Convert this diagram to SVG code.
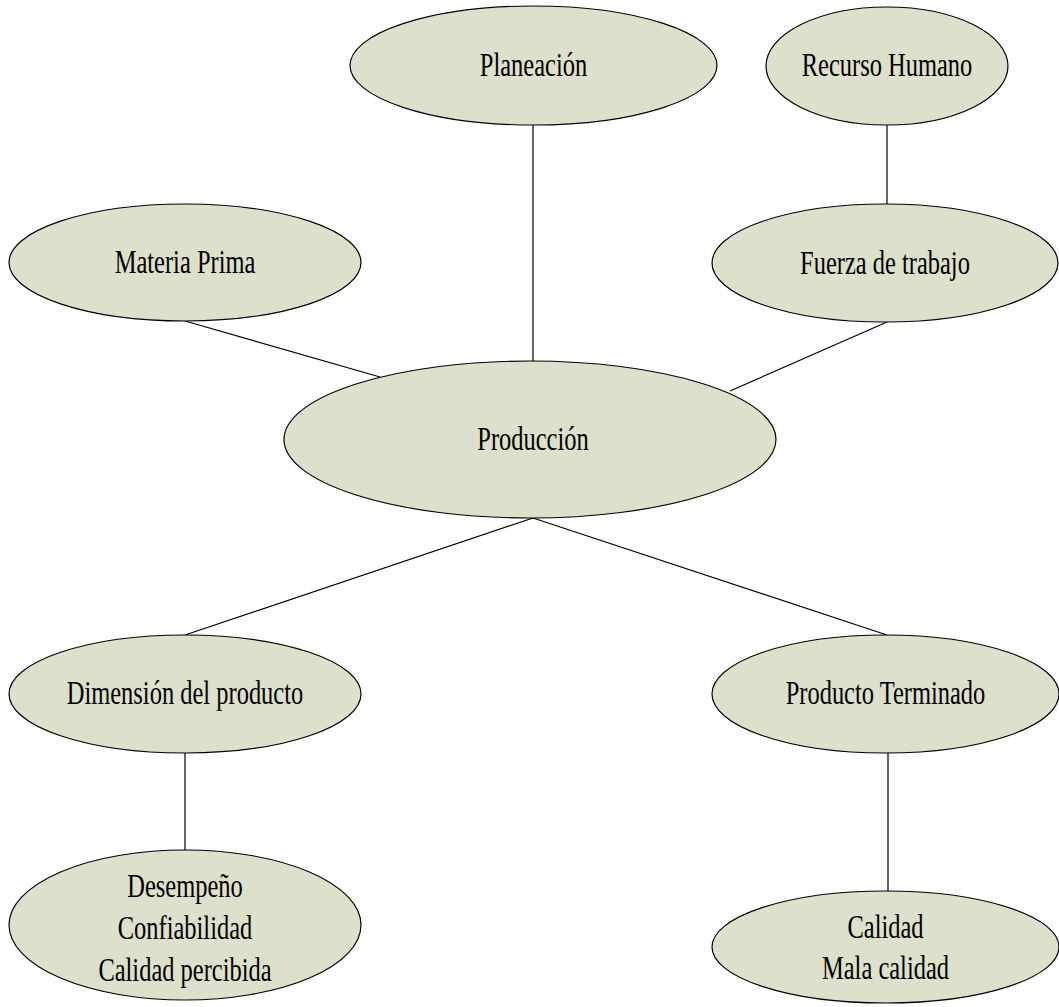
<svg xmlns="http://www.w3.org/2000/svg" width="1059" height="1007" viewBox="0 0 1059 1007">
<style>
.node ellipse{fill:#dde0cb;stroke:#000;stroke-width:1.2}
.node text{font-family:"Liberation Serif","Times New Roman",serif;font-size:34px;fill:#000;text-anchor:middle}
.conn line{stroke:#000;stroke-width:1.2}
</style>
<rect width="1059" height="1007" fill="#fff"/>
<g id="connectors" class="conn">
<line x1="533" y1="125" x2="533" y2="361"/>
<line x1="887" y1="125" x2="887" y2="204"/>
<line x1="185" y1="321" x2="380" y2="377"/>
<line x1="887" y1="322" x2="730" y2="391"/>
<line x1="533" y1="518" x2="185" y2="635"/>
<line x1="533" y1="518" x2="887" y2="635"/>
<line x1="185" y1="753" x2="185" y2="850"/>
<line x1="888" y1="753" x2="888" y2="891"/>
</g>
<g id="planeacion" class="node">
<ellipse cx="533.5" cy="65.5" rx="183.5" ry="59.5"/>
<text transform="translate(533.5,76) scale(0.72,1)">Planeación</text>
</g>
<g id="recurso-humano" class="node">
<ellipse cx="887" cy="66" rx="121" ry="59"/>
<text transform="translate(887,76) scale(0.72,1)">Recurso Humano</text>
</g>
<g id="materia-prima" class="node">
<ellipse cx="185" cy="262.5" rx="176" ry="58.5"/>
<text transform="translate(185,273) scale(0.72,1)">Materia Prima</text>
</g>
<g id="fuerza-de-trabajo" class="node">
<ellipse cx="885" cy="263" rx="173" ry="59"/>
<text transform="translate(885,274) scale(0.72,1)">Fuerza de trabajo</text>
</g>
<g id="produccion" class="node">
<ellipse cx="530" cy="439.5" rx="246" ry="78.5"/>
<text transform="translate(533,450) scale(0.72,1)">Producción</text>
</g>
<g id="dimension-del-producto" class="node">
<ellipse cx="185" cy="694" rx="176" ry="59"/>
<text transform="translate(185,704) scale(0.72,1)">Dimensión del producto</text>
</g>
<g id="producto-terminado" class="node">
<ellipse cx="885.5" cy="694" rx="173.5" ry="59"/>
<text transform="translate(885.5,704) scale(0.72,1)">Producto Terminado</text>
</g>
<g id="desempeno" class="node">
<ellipse cx="185" cy="925" rx="176" ry="75"/>
<text transform="translate(185,897) scale(0.72,1)">Desempeño</text>
<text transform="translate(185,939) scale(0.72,1)">Confiabilidad</text>
<text transform="translate(185,981) scale(0.72,1)">Calidad percibida</text>
</g>
<g id="calidad" class="node">
<ellipse cx="885.5" cy="947" rx="173.5" ry="56"/>
<text transform="translate(885.5,938) scale(0.72,1)">Calidad</text>
<text transform="translate(885.5,979) scale(0.72,1)">Mala calidad</text>
</g>
</svg>
